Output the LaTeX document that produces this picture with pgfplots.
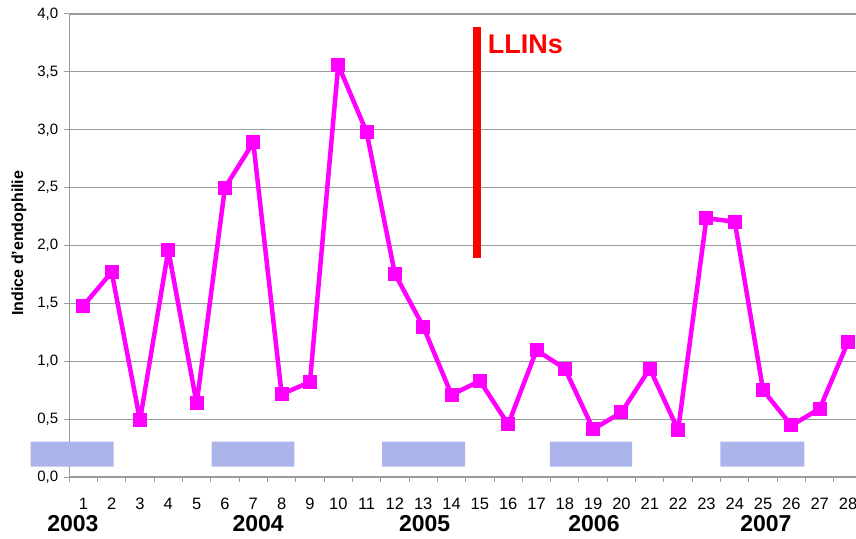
\documentclass[border=0pt]{standalone}
\usepackage{fontspec}
\setmainfont{Liberation Sans}
\usepackage{pgfplots}
\pgfplotsset{compat=1.18}
\definecolor{magline}{RGB}{255,0,255}
\definecolor{seasonblue}{RGB}{172,180,236}
\definecolor{gridgray}{RGB}{155,155,155}

\begin{document}
\begin{tikzpicture}
\useasboundingbox (0,0) rectangle (856pt,538pt);
\begin{axis}[
    at={(69.2pt,61pt)}, anchor=south west,
    scale only axis, width=793pt, height=463pt,
    xmin=0.5, xmax=28.5, ymin=0, ymax=4,
    axis lines=left,
    axis line style={-, draw=gridgray, line width=1.4pt},
    clip=false,
    ymajorgrids,
    grid style={gridgray, line width=1.2pt},
    xtick={1,...,28},
    minor xtick={0.5,1.5,...,28.5},
    ytick={0,0.5,...,4},
    tick align=outside,
    major tick length=5pt, minor tick length=5pt,
    tick style={gridgray, line width=1pt},
    every major x tick/.append style={draw=none},
    xticklabel style={font=\fontsize{16.5}{18}\selectfont, anchor=base, yshift=-27pt,
        /pgf/number format/assume math mode=true},
    yticklabel style={font=\fontsize{15}{17}\selectfont, xshift=-2.5pt,
        /pgf/number format/fixed, /pgf/number format/fixed zerofill,
        /pgf/number format/precision=1, /pgf/number format/use comma,
        /pgf/number format/assume math mode=true},
    ylabel={Indice d'endophilie},
    every axis y label/.style={at={(axis description cs:-0.0633,0.505)},
        rotate=90, anchor=center, font=\fontsize{16}{18}\selectfont\bfseries},
]
% dry-season bands
\addplot[fill=seasonblue, draw=none] coordinates {(-0.86,0.09) (2.07,0.09) (2.07,0.305) (-0.86,0.305) (-0.86,0.09)};
\addplot[fill=seasonblue, draw=none] coordinates {(5.53,0.09) (8.45,0.09) (8.45,0.305) (5.53,0.305) (5.53,0.09)};
\addplot[fill=seasonblue, draw=none] coordinates {(11.55,0.09) (14.48,0.09) (14.48,0.305) (11.55,0.305) (11.55,0.09)};
\addplot[fill=seasonblue, draw=none] coordinates {(17.47,0.09) (20.38,0.09) (20.38,0.305) (17.47,0.305) (17.47,0.09)};
\addplot[fill=seasonblue, draw=none] coordinates {(23.49,0.09) (26.46,0.09) (26.46,0.305) (23.49,0.305) (23.49,0.09)};

% LLIN distribution
\addplot[red, line width=8pt, line cap=butt] coordinates {(14.9,1.89) (14.9,3.89)};

\addplot[magline, line width=4.5pt, line join=round, mark=square*,
    mark size=6.5pt, mark options={solid, line width=0pt}] coordinates {
    (1,1.48) (2,1.77) (3,0.49) (4,1.96) (5,0.635) (6,2.50) (7,2.89)
    (8,0.716) (9,0.82) (10,3.56) (11,2.98) (12,1.755) (13,1.30) (14,0.71)
    (15,0.83) (16,0.455) (17,1.095) (18,0.937) (19,0.414) (20,0.558)
    (21,0.937) (22,0.406) (23,2.235) (24,2.206) (25,0.75) (26,0.445)
    (27,0.59) (28,1.167)
};

\node[anchor=base west, text=red, inner sep=0,
    font=\fontsize{27}{30}\selectfont\bfseries] at (axis cs:15.28,3.66) {LLINs};

\node[anchor=base, font=\fontsize{23}{26}\selectfont\bfseries] at (axis cs:0.63,-0.475) {2003};
\node[anchor=base, font=\fontsize{23}{26}\selectfont\bfseries] at (axis cs:7.17,-0.475) {2004};
\node[anchor=base, font=\fontsize{23}{26}\selectfont\bfseries] at (axis cs:13.05,-0.475) {2005};
\node[anchor=base, font=\fontsize{23}{26}\selectfont\bfseries] at (axis cs:19.03,-0.475) {2006};
\node[anchor=base, font=\fontsize{23}{26}\selectfont\bfseries] at (axis cs:25.1,-0.475) {2007};
\end{axis}
\end{tikzpicture}
\end{document}
